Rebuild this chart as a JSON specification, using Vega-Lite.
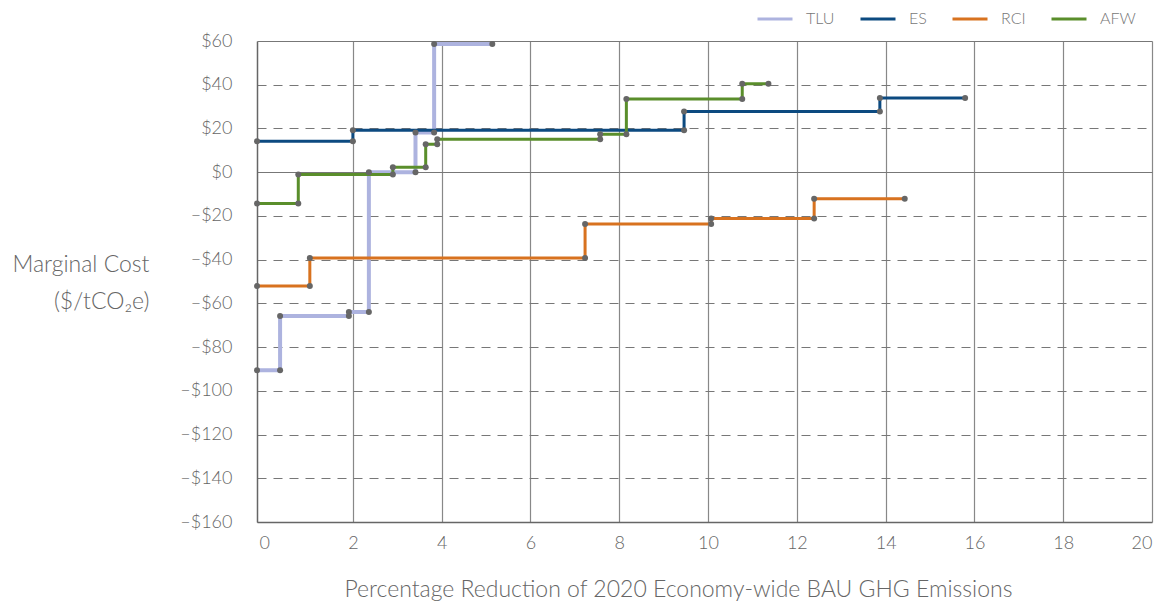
{
  "$schema": "https://vega.github.io/schema/vega-lite/v6.json",
  "autosize": {"type": "none"},
  "width": 895,
  "height": 481,
  "padding": {"left": 257, "top": 41, "right": 17, "bottom": 84},
  "background": "white",
  "config": {
    "font": "Lato",
    "view": {"stroke": null},
    "axis": {"labelFont": "Lato", "titleFont": "Lato", "labelFontWeight": 300, "titleFontWeight": 300, "labelColor": "#666", "titleColor": "#666"}
  },
  "data": {"values": [
    {"series": "TLU", "o": 1, "x": -0.16, "y": -90.6},
    {"series": "TLU", "o": 2, "x": 0.36, "y": -90.6},
    {"series": "TLU", "o": 3, "x": 0.36, "y": -65.8},
    {"series": "TLU", "o": 4, "x": 1.91, "y": -65.8},
    {"series": "TLU", "o": 5, "x": 1.91, "y": -63.9},
    {"series": "TLU", "o": 6, "x": 2.36, "y": -63.9},
    {"series": "TLU", "o": 7, "x": 2.36, "y": 0},
    {"series": "TLU", "o": 8, "x": 3.41, "y": 0},
    {"series": "TLU", "o": 9, "x": 3.41, "y": 18.1},
    {"series": "TLU", "o": 10, "x": 3.83, "y": 18.1},
    {"series": "TLU", "o": 11, "x": 3.83, "y": 58.6},
    {"series": "TLU", "o": 12, "x": 5.14, "y": 58.6},
    {"series": "ES", "o": 1, "x": -0.16, "y": 14.2},
    {"series": "ES", "o": 2, "x": 2.0, "y": 14.2},
    {"series": "ES", "o": 3, "x": 2.0, "y": 19.2},
    {"series": "ES", "o": 4, "x": 9.46, "y": 19.2},
    {"series": "ES", "o": 5, "x": 9.46, "y": 27.7},
    {"series": "ES", "o": 6, "x": 13.87, "y": 27.7},
    {"series": "ES", "o": 7, "x": 13.87, "y": 33.9},
    {"series": "ES", "o": 8, "x": 15.79, "y": 33.9},
    {"series": "RCI", "o": 1, "x": -0.16, "y": -52.1},
    {"series": "RCI", "o": 2, "x": 1.03, "y": -52.1},
    {"series": "RCI", "o": 3, "x": 1.03, "y": -39.3},
    {"series": "RCI", "o": 4, "x": 7.23, "y": -39.3},
    {"series": "RCI", "o": 5, "x": 7.23, "y": -23.7},
    {"series": "RCI", "o": 6, "x": 10.07, "y": -23.7},
    {"series": "RCI", "o": 7, "x": 10.07, "y": -21.2},
    {"series": "RCI", "o": 8, "x": 12.39, "y": -21.2},
    {"series": "RCI", "o": 9, "x": 12.39, "y": -12.1},
    {"series": "RCI", "o": 10, "x": 14.43, "y": -12.1},
    {"series": "AFW", "o": 1, "x": -0.16, "y": -14.3},
    {"series": "AFW", "o": 2, "x": 0.77, "y": -14.3},
    {"series": "AFW", "o": 3, "x": 0.77, "y": -1.1},
    {"series": "AFW", "o": 4, "x": 2.9, "y": -1.1},
    {"series": "AFW", "o": 5, "x": 2.9, "y": 2.3},
    {"series": "AFW", "o": 6, "x": 3.64, "y": 2.3},
    {"series": "AFW", "o": 7, "x": 3.64, "y": 12.8},
    {"series": "AFW", "o": 8, "x": 3.9, "y": 12.8},
    {"series": "AFW", "o": 9, "x": 3.9, "y": 15.1},
    {"series": "AFW", "o": 10, "x": 7.57, "y": 15.1},
    {"series": "AFW", "o": 11, "x": 7.57, "y": 17.4},
    {"series": "AFW", "o": 12, "x": 8.16, "y": 17.4},
    {"series": "AFW", "o": 13, "x": 8.16, "y": 33.5},
    {"series": "AFW", "o": 14, "x": 10.77, "y": 33.5},
    {"series": "AFW", "o": 15, "x": 10.77, "y": 40.5},
    {"series": "AFW", "o": 16, "x": 11.36, "y": 40.5}
  ]},
  "encoding": {
    "x": {
      "field": "x", "type": "quantitative",
      "scale": {"domain": [-0.16, 20], "nice": false, "zero": false},
      "axis": {
        "values": [0, 2, 4, 6, 8, 10, 12, 14, 16, 18, 20],
        "title": "Percentage Reduction of 2020 Economy-wide BAU GHG Emissions",
        "titleFontSize": 23, "titleX": 421, "titleY": 74, "titleAlign": "center", "titleAnchor": null, "titleBaseline": "alphabetic",
        "labelFontSize": 18, "labelPadding": 12, "ticks": false,
        "domainColor": "#666", "domainWidth": 1.5,
        "grid": true, "gridColor": {"condition": {"test": "datum.value === 0", "value": "transparent"}, "value": "#888"}, "gridWidth": 1.2
      }
    },
    "y": {
      "field": "y", "type": "quantitative",
      "scale": {"domain": [-160, 60], "nice": false},
      "axis": {
        "values": [-160, -140, -120, -100, -80, -60, -40, -20, 0, 20, 40, 60],
        "labelExpr": "datum.value < 0 ? '\u2013$' + (-datum.value) : '$' + datum.value",
        "labelFontSize": 18, "labelPadding": 25, "ticks": false,
        "domainColor": "#666", "domainWidth": 1.5,
        "grid": true, "gridColor": "#777", "gridWidth": 1.2,
        "gridDash": {"condition": {"test": "datum.value === 0 || datum.value === 60", "value": []}, "value": [9, 7]},
        "title": ["Marginal Cost", "($/tCO\u2082e)"],
        "titleFontSize": 23, "titleAngle": 0, "titleAlign": "right", "titleBaseline": "alphabetic",
        "titleX": -108, "titleY": 230, "titleLineHeight": 37
      }
    }
  },
  "layer": [
    {
      "mark": {"type": "line", "interpolate": "linear"},
      "encoding": {
        "color": {
          "field": "series", "type": "nominal",
          "scale": {"domain": ["TLU", "ES", "RCI", "AFW"], "range": ["#adb3df", "#0c4a80", "#d8721f", "#5a8e2b"]},
          "legend": {
            "title": null, "orient": "none", "legendX": 499, "legendY": -41, "direction": "horizontal",
            "columns": 4, "gridAlign": "none", "columnPadding": 19,
            "symbolType": "stroke", "symbolSize": 1225, "symbolStrokeWidth": 3,
            "labelFontSize": 16, "labelColor": "#777", "labelFont": "Lato", "labelFontWeight": 300, "labelOffset": 12
          }
        },
        "order": {"field": "o", "type": "quantitative"},
        "strokeWidth": {"condition": {"test": "datum.series === 'TLU'", "value": 4}, "value": 3}
      }
    },
    {
      "mark": {"type": "circle", "color": "#666", "size": 36, "opacity": 1},
      "encoding": {}
    }
  ]
}
